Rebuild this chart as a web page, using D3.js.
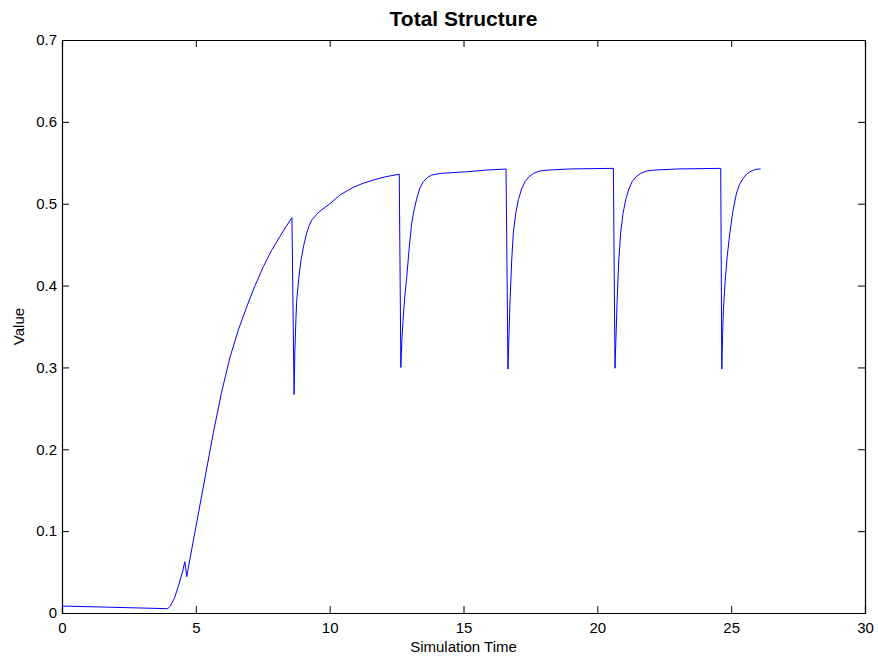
<!DOCTYPE html>
<html>
<head>
<meta charset="utf-8">
<script src="https://cdn.jsdelivr.net/npm/d3@7"></script>
<style>
  body { margin: 0; background: #fff; }
  text { font-family: "Liberation Sans", Arial, sans-serif; }
</style>
</head>
<body>
<svg id="chart" width="878" height="660"></svg>
<script>
// values (one row per cycle)
const simTime = [
    0, 3.95, 4.05, 4.2, 4.35, 4.5, 4.59, 4.66,
    4.91, 5.2, 5.65, 5.95, 6.28, 6.6, 6.9, 7.2, 7.52, 7.83, 8.14, 8.37, 8.59,
    8.67, 8.7, 8.74, 8.77, 8.85, 8.93, 9.03, 9.14, 9.23, 9.33, 9.6, 10.01, 10.4, 10.88, 11.25, 11.63, 12.1, 12.6,
    12.66, 12.7, 12.75, 12.81, 12.88, 12.97, 13.06, 13.15, 13.25, 13.37, 13.5, 13.65, 13.81, 14.12, 14.6, 15.12, 15.8, 16.59,
    16.66, 16.69, 16.74, 16.8, 16.86, 16.95, 17.05, 17.17, 17.3, 17.45, 17.61, 17.85, 18.11, 19.0, 20.6,
    20.66, 20.69, 20.74, 20.8, 20.87, 20.96, 21.06, 21.18, 21.3, 21.45, 21.62, 21.85, 22.09, 23.0, 24.61,
    24.65, 24.68, 24.71, 24.77, 24.85, 24.95, 25.07, 25.2, 25.32, 25.45, 25.57, 25.7, 25.9, 26.1
];
const value = [
    0.0085, 0.0053, 0.0085, 0.018, 0.033, 0.05, 0.0627, 0.0444,
    0.089, 0.14, 0.2195, 0.268, 0.313, 0.347, 0.374, 0.399, 0.423, 0.443, 0.46, 0.472, 0.483,
    0.267, 0.32, 0.36, 0.382, 0.41, 0.431, 0.449, 0.464, 0.473, 0.48, 0.49, 0.5, 0.511, 0.52, 0.525, 0.529, 0.533, 0.536,
    0.3, 0.335, 0.362, 0.388, 0.411, 0.445, 0.475, 0.492, 0.506, 0.519, 0.527, 0.532, 0.535, 0.537, 0.538, 0.539, 0.541, 0.5424,
    0.298, 0.33, 0.382, 0.43, 0.464, 0.488, 0.505, 0.518, 0.527, 0.533, 0.537, 0.54, 0.541, 0.5425, 0.5432,
    0.299, 0.33, 0.382, 0.43, 0.464, 0.488, 0.505, 0.518, 0.527, 0.533, 0.537, 0.54, 0.541, 0.5425, 0.5432,
    0.298, 0.34, 0.37, 0.403, 0.435, 0.464, 0.492, 0.513, 0.524, 0.531, 0.536, 0.539, 0.5418, 0.5425
];
const xTicks = [0, 5, 10, 15, 20, 25, 30];
const yTicks = [0, 0.1, 0.2, 0.3, 0.4, 0.5, 0.6, 0.7];

const margin = { top: 40, right: 13, bottom: 47, left: 62 };
const width = 878, height = 660;

const svg = d3.select('#chart');

const x = d3.scaleLinear()
    .domain([0, 30])
    .range([margin.left, width - margin.right]);
const y = d3.scaleLinear()
    .domain([0, 0.7])
    .range([height - margin.bottom, margin.top]);

const tickLen = 7;
const fmt = d => (d === 0 ? '0' : d3.format('.1f')(d));

// axes: labelled bottom/left, bare ticks on top/right (inward)
svg.append('g')
    .attr('class', 'x-axis')
    .attr('transform', `translate(0, ${y(0)})`)
    .call(d3.axisBottom(x).tickValues(xTicks).tickSize(-tickLen).tickPadding(9).tickFormat(d3.format('d')));
svg.append('g')
    .attr('transform', `translate(0, ${y(0.7)})`)
    .call(d3.axisTop(x).tickValues(xTicks).tickSize(-tickLen).tickFormat(''));
svg.append('g')
    .attr('class', 'y-axis')
    .attr('transform', `translate(${x(0)}, 0)`)
    .call(d3.axisLeft(y).tickValues(yTicks).tickSize(-tickLen).tickPadding(5).tickFormat(fmt));
svg.append('g')
    .attr('transform', `translate(${x(30)}, 0)`)
    .call(d3.axisRight(y).tickValues(yTicks).tickSize(-tickLen).tickFormat(''));

svg.selectAll('.domain').attr('stroke', '#000').attr('stroke-width', 1.2);
svg.selectAll('.tick line').attr('stroke', '#000');
svg.selectAll('.tick text')
    .attr('fill', '#000')
    .style('font-size', '15px')
    .style('font-family', '"Liberation Sans", Arial, sans-serif');

// line
const line = d3.line()
    .x((d, i) => x(simTime[i]))
    .y(d => y(d));

svg.append('path')
    .datum(value)
    .attr('fill', 'none')
    .attr('stroke', '#0000ff')
    .attr('stroke-width', 1)
    .attr('d', line);

// labels
svg.append('text')
    .attr('x', (x(0) + x(30)) / 2)
    .attr('y', 26)
    .attr('text-anchor', 'middle')
    .style('font-size', '21px')
    .style('font-weight', 'bold')
    .text('Total Structure');

svg.append('text')
    .attr('x', (x(0) + x(30)) / 2)
    .attr('y', 652)
    .attr('text-anchor', 'middle')
    .style('font-size', '15px')
    .text('Simulation Time');

svg.append('text')
    .attr('transform', `translate(24, ${(y(0) + y(0.7)) / 2}) rotate(-90)`)
    .attr('text-anchor', 'middle')
    .style('font-size', '15px')
    .text('Value');
</script>
</body>
</html>
